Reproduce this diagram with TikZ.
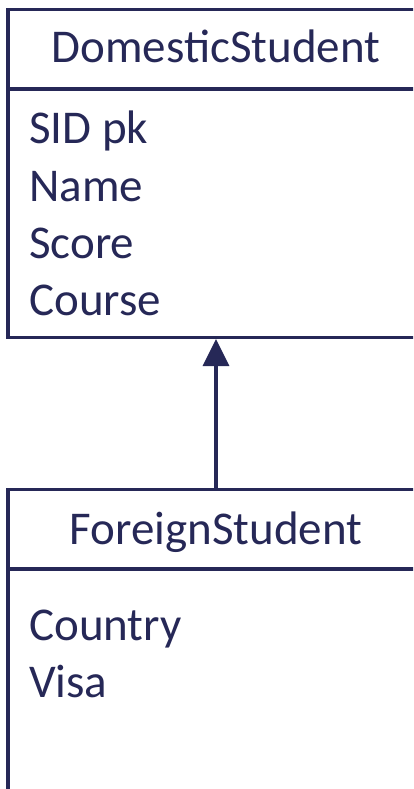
\documentclass[tikz,border=0pt]{standalone}
\usepackage{fontspec}
\setmainfont{Carlito}
\usetikzlibrary{arrows.meta}
\definecolor{ink}{RGB}{38,40,87}
\begin{document}
\begin{tikzpicture}[x=1pt,y=-1pt,
  classbox/.style={draw=ink,line width=3.2pt,minimum width=416pt,inner sep=0pt},
  title/.style={text=ink,font=\fontsize{47}{56}\selectfont,anchor=base,inner sep=0pt},
  attr/.style={text=ink,font=\fontsize{47}{56}\selectfont,anchor=base west,inner sep=0pt},
  divider/.style={draw=ink,line width=3.2pt},
  inherit/.style={draw=ink,line width=3.2pt,-{Triangle[length=27pt,width=26pt]}}]
\useasboundingbox (0,0) rectangle (413,789);
\fill[white] (0,0) rectangle (413,789);
\clip (0,0) rectangle (413,789);

% superclass
\node[classbox,minimum height=328pt] (dom) at (216,173.5) {};
\draw[divider] (dom.west |- 0,89) -- (dom.east |- 0,89);
\node[title] (domname) at (216,63) {DomesticStudent};
\node[attr] (sid) at (29,143) {SID pk};
\node[attr] (name) at (29,201) {Name};
\node[attr] (score) at (29,258) {Score};
\node[attr] (course) at (29,315) {Course};

% subclass
\node[classbox,minimum height=330pt] (fs) at (216,654.5) {};
\draw[divider] (fs.west |- 0,569) -- (fs.east |- 0,569);
\node[title] (fsname) at (216,544) {ForeignStudent};
\node[attr] (country) at (29,640) {Country};
\node[attr] (visa) at (29,697) {Visa};

% generalisation
\draw[inherit] (fs.north) -- (dom.south);
\end{tikzpicture}
\end{document}
